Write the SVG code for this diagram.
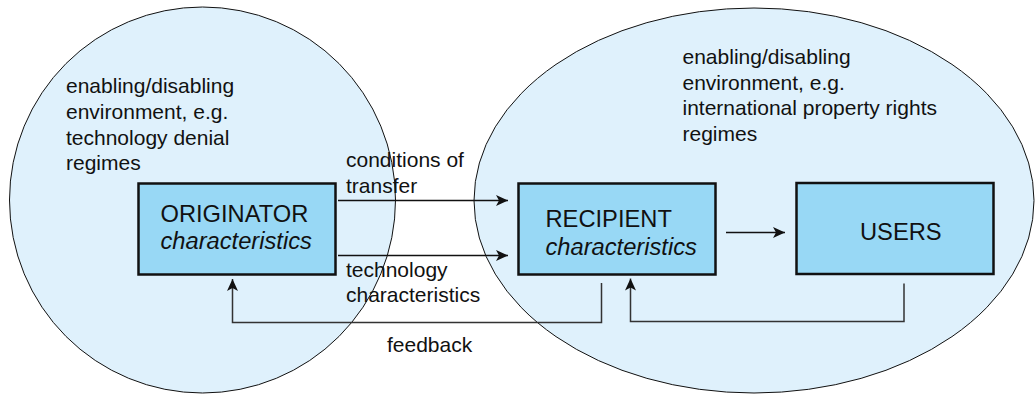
<svg xmlns="http://www.w3.org/2000/svg" width="1036" height="394" viewBox="0 0 1036 394">
<defs>
<style>
.env{fill:#dff1fc;stroke:#111;stroke-width:1}
.box{fill:#98d8f5;stroke:#111;stroke-width:2.5}
.lbl{font-family:"Liberation Sans",Arial,sans-serif;font-size:21px;fill:#111}
.big{font-family:"Liberation Sans",Arial,sans-serif;font-size:23.7px;fill:#111}
.it{font-style:italic}
.con{fill:none;stroke:#111;stroke-width:1.5}
.fb{fill:none;stroke:#333;stroke-width:1.5}
</style>
<marker id="ah" viewBox="0 0 12 12" refX="12" refY="6" markerWidth="12" markerHeight="12" markerUnits="userSpaceOnUse" orient="auto">
<path d="M0,0.5 L12,6 L0,11.5 L3,6 Z" fill="#111"/>
</marker>
</defs>
<rect width="1036" height="394" fill="#fff"/>
<g id="env-originator">
<circle class="env" cx="202.5" cy="200" r="193"/>
<text class="lbl" x="66" y="93">enabling/disabling</text>
<text class="lbl" x="66" y="119">environment, e.g.</text>
<text class="lbl" x="66" y="144.5">technology denial</text>
<text class="lbl" x="66" y="170">regimes</text>
</g>
<g id="env-recipient">
<ellipse class="env" cx="754" cy="200.5" rx="280" ry="192.5"/>
<text class="lbl" x="682.5" y="63.5">enabling/disabling</text>
<text class="lbl" x="682.5" y="89.5">environment, e.g.</text>
<text class="lbl" x="682.5" y="115">international property rights</text>
<text class="lbl" x="682.5" y="140.5">regimes</text>
</g>
<g id="originator">
<rect class="box" x="138.5" y="183.5" width="197" height="91"/>
<text class="big" x="160.5" y="222">ORIGINATOR</text>
<text class="big it" x="160.5" y="249">characteristics</text>
</g>
<g id="recipient">
<rect class="box" x="518.5" y="183.5" width="197" height="91"/>
<text class="big" x="545.5" y="227">RECIPIENT</text>
<text class="big it" x="545.5" y="255">characteristics</text>
</g>
<g id="users">
<rect class="box" x="796.5" y="183" width="197" height="91"/>
<text class="big" x="860" y="239.5">USERS</text>
</g>
<g id="connectors">
<line class="con" x1="338" y1="200.5" x2="508" y2="200.5" marker-end="url(#ah)"/>
<line class="con" x1="338" y1="255.5" x2="508" y2="255.5" marker-end="url(#ah)"/>
<line class="con" x1="726" y1="232.5" x2="785" y2="232.5" marker-end="url(#ah)"/>
<polyline class="fb" points="601.5,283 601.5,322.5 232.5,322.5 232.5,279" marker-end="url(#ah)"/>
<polyline class="fb" points="904,283.5 904,321.5 630.5,321.5 630.5,278.5" marker-end="url(#ah)"/>
<text class="lbl" x="346" y="167">conditions of</text>
<text class="lbl" x="346" y="192.5">transfer</text>
<text class="lbl" x="346" y="277">technology</text>
<text class="lbl" x="346" y="302">characteristics</text>
<text class="lbl" x="387" y="352">feedback</text>
</g>
</svg>
